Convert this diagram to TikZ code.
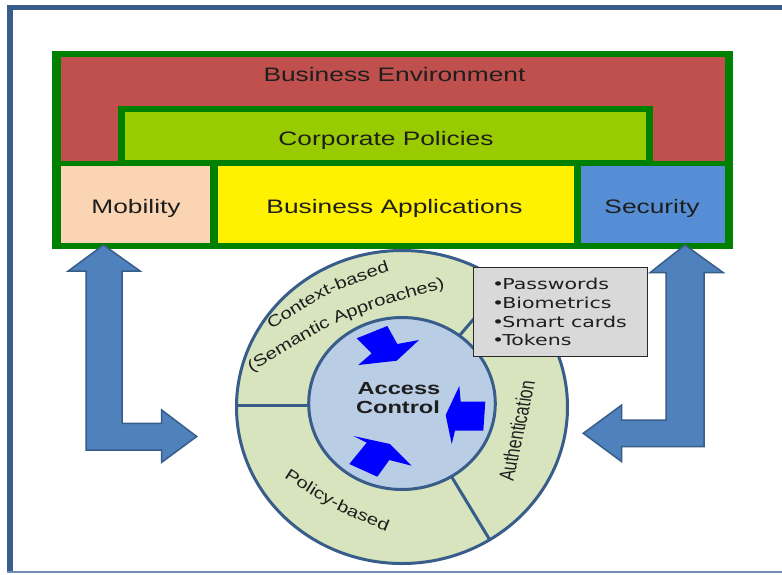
\documentclass[tikz,border=0pt]{standalone}
\usepackage{fontspec}
\setmainfont{Liberation Sans}
\newfontfamily\wideA{Liberation Sans}[FakeStretch=1.35]
\newfontfamily\wideB{Liberation Sans}[FakeStretch=1.27]
\newfontfamily\wideC{DejaVu Sans}[FakeStretch=1.37]
\newfontfamily\plainR{Liberation Sans}
\newcommand\ringSfont{\wideB\fontsize{16}{19}\selectfont\color{txt}}
\newcommand\tightbul{•\kern-2pt}
\usetikzlibrary{decorations.text}
\definecolor{frameblue}{RGB}{56,93,138}
\definecolor{framelight}{RGB}{110,140,180}
\definecolor{bgreen}{RGB}{0,128,0}
\definecolor{bred}{RGB}{192,80,77}
\definecolor{lime}{RGB}{153,204,0}
\definecolor{peach}{RGB}{251,212,180}
\definecolor{secblue}{RGB}{85,142,213}
\definecolor{ringgreen}{RGB}{215,228,189}
\definecolor{innerblue}{RGB}{185,205,229}
\definecolor{arrowblue}{RGB}{79,129,189}
\definecolor{boxgray}{RGB}{217,217,217}
\definecolor{boxedge}{RGB}{40,40,40}
\definecolor{txt}{RGB}{30,30,30}
\tikzset{
  lbl/.style={font={\wideA\fontsize{19.5}{22}\selectfont}, text=txt, inner sep=0pt, anchor=base},
  acc/.style={font={\wideA\bfseries\fontsize{17.5}{19.5}\selectfont}, text=txt, inner sep=0pt, anchor=base},
  bul/.style={font={\wideC\fontsize{15}{18.8}\selectfont}, text=txt, inner sep=0pt, anchor=base west},
  ringline/.style={draw=frameblue, line width=3pt},
  bigarrow/.style={fill=arrowblue, draw=frameblue, line width=1.5pt, line join=miter},
  smallarrow/.style={fill=blue},
  ringtext/.style={decorate, decoration={text along path, text align=center, text={#1}}}
}
\begin{document}
\begin{tikzpicture}[x=1pt, y=-1pt]
\useasboundingbox (0,0) rectangle (782,574);
\fill[white] (0,0) rectangle (782,574);
% frame
\fill[frameblue] (7,5) rectangle (782,9.5);
\fill[frameblue] (7,5) rectangle (12.5,573);
\fill[framelight] (7,571.3) rectangle (782,573.3);
% business block
\fill[bgreen] (52,51) rectangle (733,248.5);
\fill[bred] (61,57) rectangle (724.5,160.5);
\fill[bgreen] (118,106) rectangle (653,166);
\fill[lime] (125,112) rectangle (646,160);
\fill[peach] (61,165.7) rectangle (209.5,242.7);
\fill[yellow] (217.5,165.7) rectangle (573.5,242.7);
\fill[secblue] (581,165.7) rectangle (724.5,242.7);
\node[lbl] (benv) at (394.5,81) {Business Environment};
\node[lbl] (corp) at (386,145) {Corporate Policies};
\node[lbl] (mob) at (136,213.3) {Mobility};
\node[lbl] (bapp) at (394.5,213.3) {Business Applications};
\node[lbl] (sec) at (652,213.3) {Security};
% big arrows
\draw[bigarrow] (103.5,245) -- (140,271) -- (122,271) -- (122,423.3) -- (161.7,423.3) -- (161.7,410) -- (196.7,436.5) -- (161.7,462.3) -- (161.7,450) -- (86,450) -- (86,271) -- (68.3,271) -- cycle;
\draw[bigarrow] (685,245) -- (723.3,272.7) -- (704,272.7) -- (704,446.7) -- (621.7,446.7) -- (621.7,461.7) -- (583.3,433.3) -- (621.7,405) -- (621.7,420) -- (666,420) -- (666,272.7) -- (650,272.7) -- cycle;
% ring
\fill[ringgreen] (402,407) ellipse [x radius=165.5pt, y radius=156.5pt];
\draw[ringline] (236.5,405) -- (308.7,405);
\draw[ringline] (459.4,335.7) -- (503.9,283.7);
\draw[ringline] (451.4,476.4) -- (489.7,539.7);
\draw[ringline, fill=innerblue] (402,403.5) ellipse [x radius=93.3pt, y radius=86pt];
\draw[ringline] (402,407) ellipse [x radius=165.5pt, y radius=156.5pt];
% ring texts
\path[ringtext={|\ringSfont|Context-based}] (255.6,340.4) .. controls (326.7,292.2) .. (408.2,265.3);
\path[ringtext={|\ringSfont|(Semantic Approaches)}] (237.2,380.9) .. controls (342.4,316.1) .. (461.4,283);
\path[ringtext={|\ringSfont|Policy-based}] (270.8,468.8) .. controls (332.6,509.4) .. (400.9,537.4);
\node[font={\plainR\fontsize{16}{19}\selectfont}, text=txt, inner sep=0pt, xscale=1.35, rotate=80.8] (auth) at (516.7,431) {Authentication};
% small arrows
\fill[smallarrow] (356.7,338.3) -- (387.3,326) -- (397.3,344) -- (419,340) -- (396.7,360.7) -- (358.3,365) -- (371.7,353.3) -- cycle;
\fill[smallarrow] (459.3,386) -- (460.7,401.7) -- (485.3,401.7) -- (483.3,430.7) -- (455,430.7) -- (451.7,444) -- (445.7,415) -- cycle;
\fill[smallarrow] (353.3,436) -- (390,444) -- (411.7,465.7) -- (389.3,460) -- (377.3,476.7) -- (349.3,464) -- (366.7,442.7) -- cycle;
\node[acc] (ac1) at (399,394) {Access};
\node[acc] (ac2) at (398,413) {Control};
% gray box
\draw[fill=boxgray, draw=boxedge, line width=1.5pt] (473.5,267.5) rectangle (647.5,356.5);
\node[bul] (l1) at (492,289.3) {\tightbul Passwords};
\node[bul] (l2) at (492,308.2) {\tightbul Biometrics};
\node[bul] (l3) at (492,327) {\tightbul Smart cards};
\node[bul] (l4) at (492,345.8) {\tightbul Tokens};
\end{tikzpicture}
\end{document}
